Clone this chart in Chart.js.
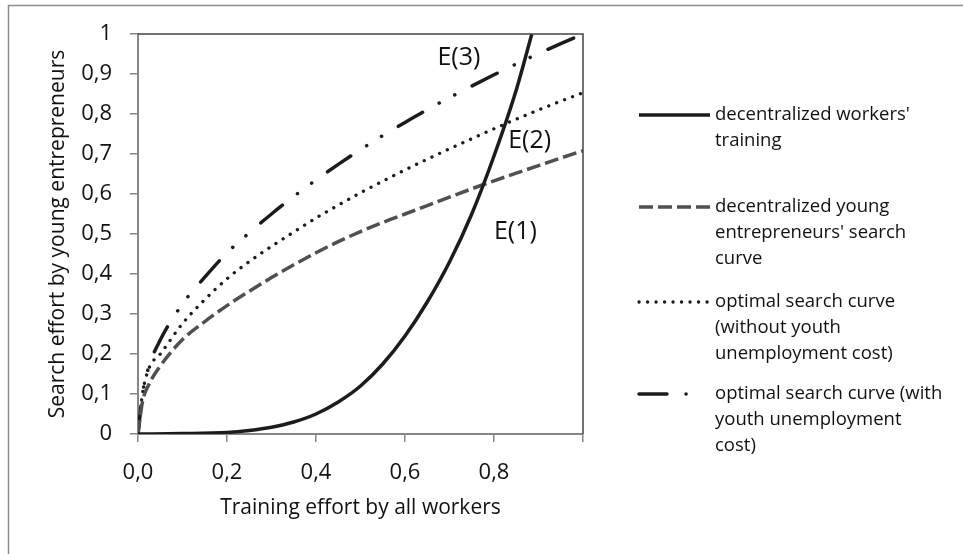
<!DOCTYPE html>
<html>
<head>
<meta charset="utf-8">
<script src="https://cdn.jsdelivr.net/npm/chart.js@4/dist/chart.umd.min.js"></script>
<style>
  html, body { margin: 0; padding: 0; background: #fff; }
  canvas { display: block; }
</style>
</head>
<body>
<canvas id="chart" width="963" height="554"></canvas>
<script>
// x positions shared by the three search curves
const xValues = [0, 0.01, 0.025, 0.05, 0.1, 0.15, 0.2, 0.25, 0.3, 0.35, 0.4, 0.45, 0.5, 0.55, 0.6, 0.65, 0.7, 0.75, 0.8, 0.85, 0.9, 0.95, 1.0];
const youngSearch = [0, 0.08, 0.125, 0.17, 0.236, 0.281, 0.321, 0.357, 0.391, 0.423, 0.453, 0.481, 0.506, 0.529, 0.55, 0.571, 0.592, 0.613, 0.633, 0.652, 0.671, 0.69, 0.708];
const optimalNoCost = [0, 0.1, 0.165, 0.2, 0.276, 0.336, 0.388, 0.431, 0.469, 0.505, 0.54, 0.572, 0.603, 0.632, 0.66, 0.687, 0.713, 0.738, 0.763, 0.787, 0.81, 0.832, 0.853];
const optimalWithCost = [0, 0.1, 0.17, 0.235, 0.325, 0.392, 0.453, 0.503, 0.55, 0.594, 0.635, 0.674, 0.711, 0.746, 0.779, 0.811, 0.841, 0.87, 0.898, 0.925, 0.951, 0.976, 1.0];

// workers' training curve
const trainX = [0, 0.1, 0.2, 0.25, 0.3, 0.35, 0.4, 0.45, 0.5, 0.55, 0.6, 0.65, 0.7, 0.75, 0.8, 0.85, 0.885];
const trainY = [0, 0.001, 0.004, 0.009, 0.017, 0.03, 0.05, 0.08, 0.12, 0.175, 0.245, 0.33, 0.43, 0.55, 0.695, 0.86, 1.0];

const xTickLabels = ['0,0', '0,2', '0,4', '0,6', '0,8', ''];
const yTickLabels = ['0', '0,1', '0,2', '0,3', '0,4', '0,5', '0,6', '0,7', '0,8', '0,9', '1'];

const seriesNames = [
    ["decentralized workers'", 'training'],
    ['decentralized young', "entrepreneurs' search", 'curve'],
    ['optimal search curve', '(without youth', 'unemployment cost)'],
    ['optimal search curve (with', 'youth unemployment', 'cost)']
];

// equilibrium labels: [text, x, y]
const pointLabels = [
    ['E(3)', 0.721, 0.941],
    ['E(2)', 0.88, 0.734],
    ['E(1)', 0.848, 0.506]
];

const FONT = "'Open Sans', sans-serif";
const toXY = (xs, ys) => xs.map((x, i) => ({ x: x, y: ys[i] }));

const frame = {
    id: 'frame',
    beforeDraw(chart) {
        const c = chart.ctx;
        c.save();
        c.fillStyle = '#fff';
        c.fillRect(0, 0, chart.width, chart.height);
        c.strokeStyle = '#8c8c8c';
        c.lineWidth = 1.5;
        c.beginPath();
        c.moveTo(8.5, chart.height);
        c.lineTo(8.5, 5.5);
        c.lineTo(chart.width, 5.5);
        c.stroke();
        c.restore();
    },
    afterDraw(chart) {
        const c = chart.ctx;
        const a = chart.chartArea;
        const xs = chart.scales.x, ys = chart.scales.y;
        c.save();
        // top + right border of plot area
        c.strokeStyle = '#444';
        c.lineWidth = 1.5;
        c.beginPath();
        c.moveTo(a.left, a.top);
        c.lineTo(a.right, a.top);
        c.lineTo(a.right, a.bottom);
        c.stroke();

        // equilibrium labels
        c.fillStyle = '#111';
        c.font = '25px ' + FONT;
        c.textAlign = 'center';
        c.textBaseline = 'middle';
        pointLabels.forEach(p => c.fillText(p[0], xs.getPixelForValue(p[1]), ys.getPixelForValue(p[2])));

        // axis titles
        c.font = '21px ' + FONT;
        c.fillText('Training effort by all workers', (a.left + a.right) / 2, 508);
        c.save();
        c.translate(58, (a.top + a.bottom) / 2);
        c.rotate(-Math.PI / 2);
        c.fillText('Search effort by young entrepreneurs', 0, 0);
        c.restore();

        // legend
        const rows = [115, 207, 302, 394];
        c.font = '18.5px ' + FONT;
        c.textAlign = 'left';
        chart.data.datasets.forEach((ds, i) => {
            const y = rows[i];
            c.save();
            c.strokeStyle = ds.borderColor;
            c.lineWidth = ds.borderWidth;
            c.lineCap = ds.borderCapStyle || 'butt';
            c.setLineDash(ds.borderDash || []);
            c.beginPath();
            c.moveTo(639, y);
            c.lineTo(i === 3 ? 695 : 710, y);
            c.stroke();
            c.restore();
            seriesNames[i].forEach((line, j) => c.fillText(line, 715, y + j * 25.7));
        });
        c.restore();
    }
};

new Chart(document.getElementById('chart').getContext('2d'), {
    type: 'line',
    data: {
        datasets: [
            {
                label: seriesNames[0].join(' '),
                data: toXY(trainX, trainY),
                borderColor: '#1c1c1c',
                borderWidth: 3.5
            },
            {
                label: seriesNames[1].join(' '),
                data: toXY(xValues, youngSearch),
                borderColor: '#505050',
                borderWidth: 3.5,
                borderDash: [14, 5]
            },
            {
                label: seriesNames[2].join(' '),
                data: toXY(xValues, optimalNoCost),
                borderColor: '#1c1c1c',
                borderWidth: 3.3,
                borderCapStyle: 'round',
                borderDash: [0.1, 8.4]
            },
            {
                label: seriesNames[3].join(' '),
                data: toXY(xValues, optimalWithCost),
                borderColor: '#1c1c1c',
                borderWidth: 3.5,
                borderCapStyle: 'round',
                borderDash: [28, 19, 0.1, 17.5, 0.1, 19.5]
            }
        ].map(ds => Object.assign(ds, {
            fill: false,
            pointRadius: 0,
            pointHoverRadius: 0,
            cubicInterpolationMode: 'monotone'
        }))
    },
    options: {
        responsive: false,
        animation: false,
        layout: { padding: { top: 34, right: 380, bottom: 0, left: 0 } },
        plugins: {
            legend: { display: false },
            tooltip: { enabled: false }
        },
        scales: {
            x: {
                type: 'linear',
                min: 0,
                max: 1,
                afterFit: s => { s.height = 120; },
                border: { color: '#868686', width: 2 },
                grid: { drawOnChartArea: false, tickLength: 8, color: '#868686', lineWidth: 1.5 },
                ticks: {
                    stepSize: 0.2,
                    padding: 18,
                    color: '#111',
                    font: { family: FONT, size: 22 },
                    maxRotation: 0,
                    callback: (v, i) => xTickLabels[i]
                }
            },
            y: {
                min: 0,
                max: 1,
                afterFit: s => { s.width = 138; },
                border: { color: '#868686', width: 2 },
                grid: { drawOnChartArea: false, tickLength: 8, color: '#868686', lineWidth: 1.5 },
                ticks: {
                    stepSize: 0.1,
                    padding: 18,
                    color: '#111',
                    font: { family: FONT, size: 22 },
                    callback: (v, i) => yTickLabels[i]
                }
            }
        }
    },
    plugins: [frame]
});
</script>
</body>
</html>
